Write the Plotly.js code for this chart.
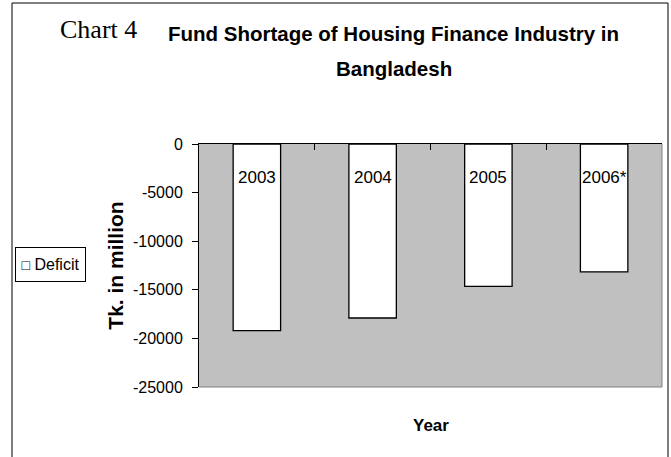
<!DOCTYPE html>
<html>
<head>
<meta charset="utf-8">
<script src="https://cdn.plot.ly/plotly-3.0.1.min.js"></script>
<style>html,body{margin:0;padding:0;background:#fff;}#chart{width:671px;height:457px;}</style>
</head>
<body>
<div id="chart"></div>
<script>
// ---- data ----
const categories = ['2003', '2004', '2005', '2006*'];
const deficit = [-19200, -17900, -14650, -13150];
const seriesName = 'Deficit';
const yTickVals = [0, -5000, -10000, -15000, -20000, -25000];
const yTickText = ['0', '-5000', '-10000', '-15000', '-20000', '-25000'];
const chartLabel = 'Chart 4';
const titleLine1 = 'Fund Shortage of Housing Finance Industry in';
const titleLine2 = 'Bangladesh';
const yTitle = 'Tk. in million';
const xTitle = 'Year';

// ---- layout helpers (pixel -> paper) ----
const W = 671, H = 457, L = 199, R = 9, T = 144, B = 70;
const PW = W - L - R, PH = H - T - B;
const px = v => (v - L) / PW;
const py = v => (H - B - v) / PH;

const SANS = 'Liberation Sans, Arial, sans-serif';

const trace = {
  type: 'bar',
  name: seriesName,
  x: categories,
  y: deficit,
  marker: { color: '#ffffff', line: { color: '#000000', width: 1.3 } },
  showlegend: false,
  hoverinfo: 'x+y'
};

const annotations = [
  { text: chartLabel, xref: 'paper', yref: 'paper', x: px(58), y: py(29), xanchor: 'left', yanchor: 'middle',
    showarrow: false, font: { family: 'Liberation Serif, Times New Roman, serif', size: 26, color: '#000' } },
  { text: titleLine1, xref: 'paper', yref: 'paper', x: px(393.5), y: py(33.5), xanchor: 'center', yanchor: 'middle',
    showarrow: false, font: { family: SANS, size: 20.5, weight: 'bold', color: '#000' } },
  { text: titleLine2, xref: 'paper', yref: 'paper', x: px(394), y: py(68.5), xanchor: 'center', yanchor: 'middle',
    showarrow: false, font: { family: SANS, size: 20.5, weight: 'bold', color: '#000' } },
  { text: '<span style="font-size:14px">□</span> ' + seriesName, xref: 'paper', yref: 'paper', x: px(50.5), y: py(264.5),
    xanchor: 'center', yanchor: 'middle', showarrow: false, bordercolor: '#000', borderwidth: 1, borderpad: 0,
    width: 69, height: 33, align: 'center',
    bgcolor: '#fff', font: { family: SANS, size: 16, color: '#000' } },
  { text: xTitle, xref: 'paper', yref: 'paper', x: px(431), y: py(425.5), xanchor: 'center', yanchor: 'middle',
    showarrow: false, font: { family: SANS, size: 17, weight: 'bold', color: '#000' } }
];
categories.forEach((c, i) => annotations.push({
  text: c, x: i, y: 0, xref: 'x', yref: 'y', yanchor: 'middle', xanchor: 'center', yshift: -33,
  showarrow: false, font: { family: SANS, size: 17, color: '#000' }
}));

const frame = { type: 'line', xref: 'paper', yref: 'paper', line: { color: '#000', width: 1 } };
const shapes = [
  Object.assign({}, frame, { x0: px(12), x1: px(12), y0: py(3), y1: py(470) }),
  Object.assign({}, frame, { x0: px(12), x1: px(668), y0: py(3), y1: py(3) }),
  Object.assign({}, frame, { x0: px(668), x1: px(668), y0: py(3), y1: py(470) }),
  { type: 'line', xref: 'paper', yref: 'paper', x0: 1, x1: 1, y0: 0, y1: 1, line: { color: '#808080', width: 1 } },
  { type: 'line', xref: 'paper', yref: 'paper', x0: 0, x1: 1, y0: 0, y1: 0, line: { color: '#808080', width: 1 } }
];

const layout = {
  width: W, height: H,
  margin: { l: L, r: R, t: T, b: B, pad: 0 },
  paper_bgcolor: '#ffffff',
  plot_bgcolor: '#c0c0c0',
  bargap: 0.59,
  showlegend: false,
  xaxis: {
    type: 'category', side: 'top', range: [-0.5, 3.5],
    showline: true, linecolor: '#000', linewidth: 1,
    ticks: 'inside', ticklen: 6, tickcolor: '#000', tickwidth: 1, tickson: 'boundaries',
    showticklabels: false, showgrid: false, zeroline: false, fixedrange: true
  },
  yaxis: {
    range: [-25000, 0], tickvals: yTickVals, ticktext: yTickText,
    showline: true, linecolor: '#000', linewidth: 1,
    ticks: 'outside', ticklen: 6, tickcolor: '#000', tickwidth: 1, ticklabelstandoff: 6,
    showgrid: false, zeroline: false, fixedrange: true,
    tickfont: { family: SANS, size: 16, color: '#000' },
    title: { text: yTitle, font: { family: SANS, size: 21, weight: 'bold', color: '#000' }, standoff: 3 }
  },
  annotations: annotations,
  shapes: shapes
};

Plotly.newPlot('chart', [trace], layout, { displayModeBar: false, staticPlot: true });
</script>
</body>
</html>
